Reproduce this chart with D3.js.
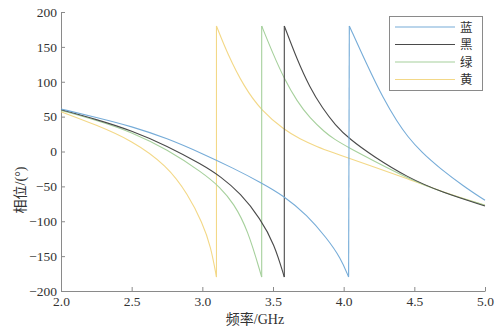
<!DOCTYPE html>
<html>
<head>
<meta charset="utf-8">
<script src="https://cdn.jsdelivr.net/npm/d3@7"></script>
<style>
body { margin: 0; background: #fff; }
</style>
</head>
<body>
<svg width="495" height="327"></svg>
<script>
var svgWidth = 495;
var svgHeight = 327;

var seriesNames = ['蓝', '黑', '绿', '黄'];
var seriesColors = ['#76acd8', '#4a4a4a', '#a6d09c', '#f3d887'];

var xTicks = [2.0, 2.5, 3.0, 3.5, 4.0, 4.5, 5.0];
var yTicks = [-200, -150, -100, -50, 0, 50, 100, 150, 200];

// each series: segments of [GHz, degrees]; a new segment starts after a phase wrap
var blue = [
	[[2.0, 61], [2.25, 49], [2.5, 36], [2.75, 19], [3.0, -3], [3.22, -24], [3.41, -44], [3.58, -64], [3.74, -91], [3.88, -124], [3.98, -153], [4.035, -180]],
	[[4.04, 180], [4.165, 124], [4.28, 76], [4.38, 42], [4.45, 22], [4.55, -1], [4.68, -24], [4.85, -50], [5.0, -70]]
];
var black = [
	[[2.0, 60], [2.25, 46], [2.5, 30], [2.75, 8], [3.0, -19], [3.13, -36], [3.27, -60], [3.41, -96], [3.51, -133], [3.58, -180]],
	[[3.58, 180], [3.67, 132], [3.76, 92], [3.85, 62], [3.94, 38], [4.04, 18], [4.21, -7], [4.45, -37], [4.7, -59], [5.0, -78]]
];
var green = [
	[[2.0, 59], [2.25, 45], [2.5, 28], [2.75, 3], [3.0, -30], [3.13, -52], [3.22, -74], [3.32, -111], [3.42, -180]],
	[[3.42, 180], [3.5, 140], [3.58, 104], [3.67, 72], [3.76, 48], [3.87, 27], [3.93, 18], [4.04, 5], [4.2, -12], [4.45, -38], [4.7, -59], [5.0, -77]]
];
var yellow = [
	[[2.0, 57], [2.25, 38], [2.5, 16], [2.75, -20], [2.9, -62], [3.0, -102], [3.06, -136], [3.1, -180]],
	[[3.1, 180], [3.176, 141], [3.294, 93], [3.42, 58], [3.58, 31], [3.69, 18], [3.81, 7], [3.93, -2], [4.04, -10], [4.2, -21], [4.45, -39], [4.7, -58], [5.0, -77]]
];
var seriesData = [blue, black, green, yellow];

var xScale = d3.scaleLinear()
	.domain([2, 5])
	.range([61, 485]);
var yScale = d3.scaleLinear()
	.domain([-200, 200])
	.range([291, 12]);

var svg = d3.select('svg');

var xAxis = d3.axisBottom(xScale)
	.tickValues(xTicks)
	.tickFormat(d3.format('.1f'))
	.tickSizeInner(-4)
	.tickSizeOuter(0)
	.tickPadding(5);
var yAxis = d3.axisLeft(yScale)
	.tickValues(yTicks)
	.tickSizeInner(-4)
	.tickSizeOuter(0)
	.tickPadding(4);

var gx = svg.append('g')
	.attr('transform', `translate(0,${yScale(-200)})`)
	.call(xAxis);
var gy = svg.append('g')
	.attr('transform', `translate(${xScale(2)},0)`)
	.call(yAxis);
[gx, gy].forEach(g => {
	g.selectAll('path, line').attr('stroke', '#8a8a8a');
	g.selectAll('text')
		.attr('font-family', 'Liberation Serif')
		.attr('font-size', 13.5)
		.attr('fill', '#333');
});

svg.append('text')
	.attr('x', 255)
	.attr('y', 324)
	.attr('text-anchor', 'middle')
	.attr('font-family', 'Liberation Serif, Noto Sans CJK SC')
	.attr('font-size', 14)
	.attr('fill', '#333')
	.text('频率/GHz');
svg.append('text')
	.attr('transform', 'rotate(-90)')
	.attr('x', -190)
	.attr('y', 25)
	.attr('text-anchor', 'middle')
	.attr('font-family', 'Liberation Serif, Noto Sans CJK SC')
	.attr('font-size', 14)
	.attr('fill', '#333')
	.text('相位/(°)');

var line = d3.line()
	.x(d => xScale(d[0]))
	.y(d => yScale(d[1]))
	.curve(d3.curveBasis);

// draw back to front so blue sits on top
for (var i = seriesData.length - 1; i >= 0; i--) {
	var segs = seriesData[i];
	var g = svg.append('g')
		.attr('fill', 'none')
		.attr('stroke', seriesColors[i])
		.attr('stroke-width', 1.1);
	g.selectAll('path')
		.data(segs)
		.enter()
		.append('path')
		.attr('d', d => line(d));
	// vertical wrap lines
	for (var s = 1; s < segs.length; s++) {
		var a = segs[s - 1][segs[s - 1].length - 1];
		var b = segs[s][0];
		g.append('line')
			.attr('x1', xScale(a[0]))
			.attr('y1', yScale(a[1]))
			.attr('x2', xScale(b[0]))
			.attr('y2', yScale(b[1]));
	}
}

// legend
var legend = svg.append('g');
legend.append('rect')
	.attr('x', 389.5)
	.attr('y', 16.5)
	.attr('width', 93)
	.attr('height', 74)
	.attr('fill', '#fff')
	.attr('stroke', '#8a8a8a');
var items = legend.selectAll('g.item')
	.data(seriesNames)
	.enter()
	.append('g')
	.attr('transform', (d, i) => `translate(0,${27 + i * 17.5})`);
items.append('line')
	.attr('x1', 395)
	.attr('x2', 455)
	.attr('stroke', (d, i) => seriesColors[i])
	.attr('stroke-width', 1.2);
items.append('text')
	.attr('x', 460)
	.attr('y', 4.5)
	.attr('font-family', 'Noto Sans CJK SC')
	.attr('font-size', 12.5)
	.attr('fill', '#333')
	.text(d => d);
</script>
</body>
</html>
